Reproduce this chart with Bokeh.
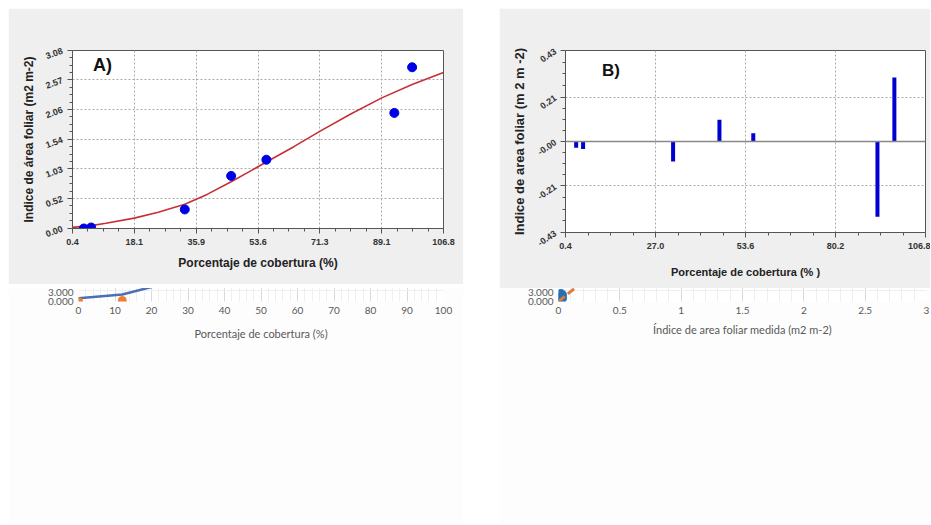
from bokeh.plotting import figure
from bokeh.models import Range1d, FixedTicker, Label, Span, Legend, LegendItem, Spacer
from bokeh.layouts import row
from bokeh.embed import file_html
from bokeh.resources import INLINE

# ---------------- data ----------------
# Panel A: measured points and fitted curve
a_cov = [3.65, 5.75, 32.6, 45.9, 56.0, 92.7, 97.8]
a_iaf = [0.0, 0.017, 0.33, 0.91, 1.19, 2.00, 2.79]
a_fit_x = [0.4, 5.75, 10.0, 18.1, 25.0, 32.6, 39.0, 45.9, 51.0, 56.0, 64.0, 71.3, 80.2, 89.1, 97.8, 106.8]
a_fit_y = [0.02, 0.05, 0.09, 0.18, 0.28, 0.42, 0.59, 0.81, 0.98, 1.15, 1.42, 1.68, 1.98, 2.26, 2.49, 2.70]
a_xticks = [0.4, 18.1, 35.9, 53.6, 71.3, 89.1, 106.8]
a_yticks = [0.00, 0.52, 1.03, 1.54, 2.06, 2.57, 3.08]
a_stats = ["S = 0.24662406", "r = 0.98164488"]

# Panel B: residuals
b_cov = [3.55, 5.6, 32.2, 45.9, 55.9, 92.6, 97.6]
b_resid = [-0.029, -0.035, -0.094, 0.103, 0.039, -0.356, 0.302]
b_xticks = [0.4, 27.0, 53.6, 80.2, 106.8]
b_yticks = [-0.43, -0.21, 0.0, 0.21, 0.43]
b_ylabels = ["-0.43", "-0.21", "-0.00", "0.21", "0.43"]

# Panel C: calibrated vs measured
c_cov = [0, 12, 43, 54, 65, 76, 87]
c_calib = [0.03, 0.065, 0.336, 0.58, 1.08, 2.16, 2.50]
c_meas = [0.0, 0.01, 0.336, 0.91, 1.19, 2.00, 2.81]
c_xticks = [0, 10, 20, 30, 40, 50, 60, 70, 80, 90, 100]
c_yticks = [0.0, 0.5, 1.0, 1.5, 2.0, 2.5, 3.0]

# Panel D: estimated vs measured
d_meas = [0.02, 0.02, 0.35, 0.92, 1.20, 2.02, 2.82]
d_est = [0.03, 0.06, 0.31, 0.55, 1.07, 2.16, 2.49]
d_trend_x = [0.0, 2.82]
d_trend_y = [0.0, 2.62]
d_eq = ["y = 0.9279x", "R² = 0.9697"]
d_xticks = [0, 0.5, 1, 1.5, 2, 2.5, 3]
d_xlabels = ["0", "0.5", "1", "1.5", "2", "2.5", "3"]
d_yticks = [0.0, 0.5, 1.0, 1.5, 2.0, 2.5, 3.0]


def minors(ticks, n):
    out = []
    for i in range(len(ticks) - 1):
        for k in range(1, n):
            out.append(ticks[i] + (ticks[i + 1] - ticks[i]) * k / n)
    return out


OLD_FONT = "Liberation Sans"
XL_FONT = "Lato"
XL_GRAY = "#595959"
PANEL_GRAY = "#efefef"
XL_BG = "#fdfdfd"


def style_old(p, xt, yt, xn, yn):
    p.xaxis.ticker = FixedTicker(ticks=xt, minor_ticks=minors(xt, xn))
    p.yaxis.ticker = FixedTicker(ticks=yt, minor_ticks=minors(yt, yn))
    for ax in (p.xaxis, p.yaxis):
        ax.axis_line_color = "#555555"
        ax.major_tick_line_color = "#555555"
        ax.minor_tick_line_color = "#555555"
        ax.major_tick_out = 5
        ax.major_tick_in = 0
        ax.minor_tick_out = 3
        ax.minor_tick_in = 0
        ax.major_label_text_font = OLD_FONT
        ax.major_label_text_font_style = "bold"
        ax.major_label_text_font_size = "9px"
        ax.major_label_text_color = "#333333"
        ax.axis_label_text_font = OLD_FONT
        ax.axis_label_text_font_style = "bold"
        ax.axis_label_text_color = "#222222"
    p.grid.grid_line_color = "#aaaaaa"
    p.grid.grid_line_dash = "2 2"
    p.outline_line_color = "#555555"


def style_xl(p, xt, yt, xn, yn):
    p.xaxis.ticker = FixedTicker(ticks=xt, minor_ticks=minors(xt, xn))
    p.yaxis.ticker = FixedTicker(ticks=yt, minor_ticks=minors(yt, yn))
    for ax in (p.xaxis, p.yaxis):
        ax.axis_line_color = None
        ax.major_tick_line_color = None
        ax.minor_tick_line_color = None
        ax.major_tick_out = 0
        ax.minor_tick_out = 0
        ax.major_label_text_font = XL_FONT
        ax.major_label_text_font_size = "10px"
        ax.major_label_text_color = XL_GRAY
        ax.axis_label_text_font = XL_FONT
        ax.axis_label_text_color = XL_GRAY
        ax.axis_label_text_font_style = "normal"
    p.grid.grid_line_color = "#d9d9d9"
    p.grid.minor_grid_line_color = "#efefef"
    p.outline_line_color = None


# ---------------- Panel A ----------------
pA = figure(width=455, height=276, x_range=Range1d(0.4, 106.8), y_range=Range1d(0, 3.08),
            output_backend="svg", toolbar_location=None,
            min_border_left=64, min_border_right=20, min_border_top=42, min_border_bottom=48,
            background_fill_color="white", border_fill_color=PANEL_GRAY)
style_old(pA, a_xticks, a_yticks, 4, 4)
pA.yaxis.major_label_overrides = {v: "%.2f" % v for v in a_yticks}
pA.xaxis.major_label_overrides = {v: "%.1f" % v for v in a_xticks}
pA.yaxis.major_label_orientation = 0.35
pA.xaxis.axis_label = "Porcentaje de cobertura (%)"
pA.yaxis.axis_label = "Indice de área foliar (m2 m-2)"
pA.xaxis.axis_label_text_font_size = "12px"
pA.yaxis.axis_label_text_font_size = "12px"
pA.xaxis.axis_label_standoff = 8
pA.line(a_fit_x, a_fit_y, line_color="#c62f35", line_width=1.6)
pA.scatter(a_cov, a_iaf, size=9, fill_color="#0000e6", line_color="#0000e6")
pA.add_layout(Label(x=6.3, y=2.83, text="A)", text_font=OLD_FONT, text_font_style="bold",
                    text_font_size="18px", text_baseline="middle", text_color="#111111"))
pA.add_layout(Label(x=104.0, y=3.51, text=a_stats[0], text_font=OLD_FONT, text_font_size="9px",
                    text_align="right", text_baseline="middle", text_color="#222222"))
pA.add_layout(Label(x=104.0, y=3.33, text=a_stats[1], text_font=OLD_FONT, text_font_size="9px",
                    text_align="right", text_baseline="middle", text_color="#222222"))

# ---------------- Panel B ----------------
pB = figure(width=431, height=280, x_range=Range1d(0.4, 106.8), y_range=Range1d(-0.43, 0.43),
            output_backend="svg", toolbar_location=None,
            min_border_left=66, min_border_right=5, min_border_top=13, min_border_bottom=56,
            background_fill_color="white", border_fill_color=PANEL_GRAY)
style_old(pB, b_xticks, b_yticks, 4, 4)
pB.yaxis.major_label_overrides = {v: s for v, s in zip(b_yticks, b_ylabels)}
pB.xaxis.major_label_overrides = {v: "%.1f" % v for v in b_xticks}
pB.yaxis.major_label_orientation = 0.6
pB.xaxis.axis_label = "Porcentaje de cobertura (% )"
pB.yaxis.axis_label = "Indice de area foliar (m 2 m -2)"
pB.xaxis.axis_label_text_font_size = "11px"
pB.yaxis.axis_label_text_font_size = "13px"
pB.xaxis.axis_label_standoff = 14
pB.add_layout(Span(location=0, dimension="width", line_color="#888888", line_width=1.5))
pB.segment(x0=b_cov, y0=[0] * len(b_cov), x1=b_cov, y1=b_resid,
           line_color="#0000d0", line_width=4, line_cap="butt")
pB.add_layout(Label(x=11.2, y=0.335, text="B)", text_font=OLD_FONT, text_font_style="bold",
                    text_font_size="17px", text_baseline="middle", text_color="#111111"))

# ---------------- Panel C ----------------
pC = figure(width=455, height=236, x_range=Range1d(0, 100), y_range=Range1d(0, 3.0),
            output_backend="svg", toolbar_location=None,
            min_border_left=70, min_border_right=20, min_border_top=13, min_border_bottom=60,
            background_fill_color="white", border_fill_color=XL_BG)
style_xl(pC, c_xticks, c_yticks, 5, 5)
pC.yaxis.major_label_overrides = {v: "%.3f" % v for v in c_yticks}
pC.xaxis.axis_label = "Porcentaje de cobertura (%)"
pC.yaxis.axis_label = "Índice de área foliar (m2 m-2)"
pC.xaxis.axis_label_text_font_size = "11px"
pC.yaxis.axis_label_text_font_size = "11px"
pC.yaxis.axis_label_text_font_style = "bold"
pC.xaxis.axis_label_standoff = 10
pC.yaxis.axis_label_standoff = 6
rc1 = pC.line(c_cov, c_calib, line_color="#4a6fb5", line_width=2.5)
rc2 = pC.scatter(c_cov, c_meas, size=8, fill_color="#ed7d31", line_color="#ed7d31")
pC.add_layout(Label(x=3.8, y=2.78, text="C)", text_font=XL_FONT, text_font_style="bold",
                    text_font_size="18px", text_baseline="middle", text_color="#111111"))
legC = Legend(items=[LegendItem(label="calibrado", renderers=[rc1]),
                     LegendItem(label="medidos", renderers=[rc2])],
              orientation="horizontal", location="center",
              label_text_font=XL_FONT, label_text_font_size="11px", label_text_color=XL_GRAY,
              border_line_color=None, background_fill_alpha=0, padding=0, margin=2,
              glyph_height=10, glyph_width=22, label_height=10, spacing=16, label_standoff=2)
pC.add_layout(legC, "below")

# ---------------- Panel D ----------------
pD = figure(width=431, height=236, x_range=Range1d(0, 3.0), y_range=Range1d(0, 3.0),
            output_backend="svg", toolbar_location=None,
            min_border_left=59, min_border_right=4, min_border_top=13, min_border_bottom=39,
            background_fill_color="white", border_fill_color=XL_BG)
style_xl(pD, d_xticks, d_yticks, 5, 5)
pD.yaxis.major_label_overrides = {v: "%.3f" % v for v in d_yticks}
pD.xaxis.major_label_overrides = {v: s for v, s in zip(d_xticks, d_xlabels)}
pD.xaxis.axis_label = "Índice de area foliar medida (m2 m-2)"
pD.yaxis.axis_label = "Índice de área foliar estimado (m2 m-2)"
pD.xaxis.axis_label_text_font_size = "11px"
pD.yaxis.axis_label_text_font_size = "10px"
pD.xaxis.axis_label_standoff = 6
pD.yaxis.axis_label_standoff = 4
pD.scatter(d_meas, d_est, size=11, fill_color="#2271b8", line_color="#2271b8")
pD.line(d_trend_x, d_trend_y, line_color="#e07a35", line_width=3, line_dash="8 4")
pD.add_layout(Label(x=0.18, y=2.72, text="D)", text_font=XL_FONT, text_font_style="bold",
                    text_font_size="18px", text_baseline="middle", text_color="#111111"))
pD.add_layout(Label(x=2.16, y=2.83, text=d_eq[0], text_font=XL_FONT, text_font_style="bold",
                    text_font_size="11px", text_baseline="middle", text_color=XL_GRAY))
pD.add_layout(Label(x=2.16, y=2.61, text=d_eq[1], text_font=XL_FONT, text_font_style="bold",
                    text_font_size="11px", text_baseline="middle", text_color=XL_GRAY))

top_gap = Spacer(width=931, height=8)
row1 = row(Spacer(width=8, height=10), pA, Spacer(width=36, height=10), pB)
row2 = row(Spacer(width=8, height=10), pC, Spacer(width=36, height=10), pD)

open("out.html", "w").write(file_html([top_gap, row1, row2], INLINE))
